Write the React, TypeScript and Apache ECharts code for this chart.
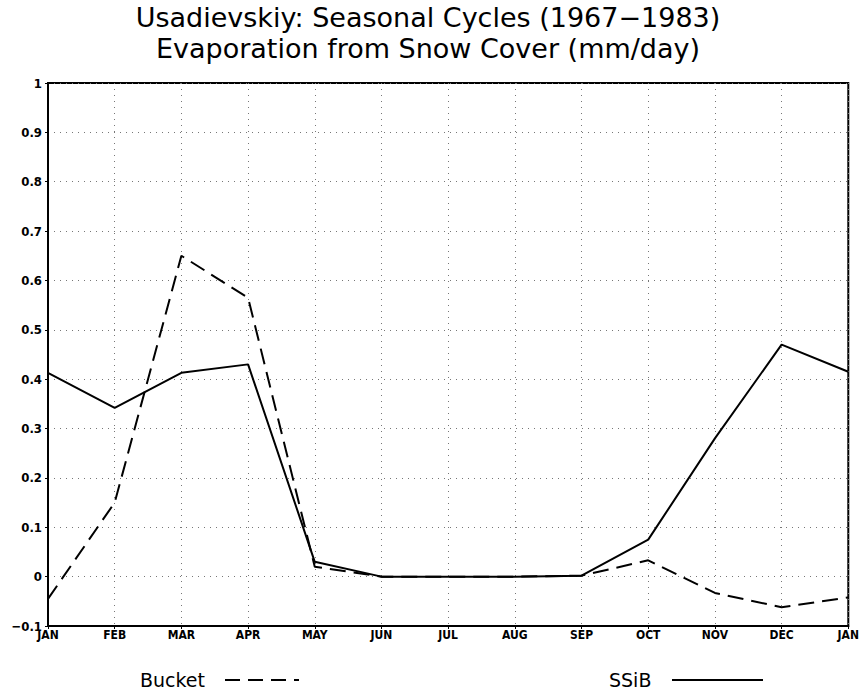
import React, { useEffect, useRef } from "react";
import * as echarts from "echarts";

const monthLabels = ["JAN", "FEB", "MAR", "APR", "MAY", "JUN", "JUL", "AUG", "SEP", "OCT", "NOV", "DEC", "JAN"];
const bucket = [-0.045, 0.15, 0.65, 0.565, 0.02, 0.0, 0.0, 0.0, 0.002, 0.033, -0.033, -0.062, -0.042];
const ssib = [0.413, 0.342, 0.413, 0.43, 0.03, 0.0, 0.0, 0.0, 0.002, 0.075, 0.28, 0.47, 0.415];
const titleLines = ["Usadievskiy: Seasonal Cycles (1967\u22121983)", "Evaporation from Snow Cover (mm/day)"];
const legendNames = ["Bucket", "SSiB"];

const labelFont = "'Liberation Sans Narrow', 'DejaVu Sans Condensed', Arial, sans-serif";
const titleFont = "'DejaVu Sans', sans-serif";

export default function App() {
  const ref = useRef<HTMLDivElement>(null);
  useEffect(() => {
    if (!ref.current) return;
    const chart = echarts.init(ref.current, null, { renderer: "svg" });
    const grid = { color: "#777", type: [1, 5] as number[], width: 1 };
    const legendText = { fontFamily: titleFont, fontSize: 19, fill: "#000" };
    chart.setOption({
      animation: false,
      backgroundColor: "#fff",
      title: {
        text: titleLines.join("\n"),
        left: 428,
        top: 2,
        padding: 0,
        textAlign: "center",
        textStyle: {
          fontFamily: titleFont,
          fontSize: 27,
          fontWeight: "normal",
          color: "#000",
          lineHeight: 31,
        },
      },
      graphic: [
        { type: "text", x: 140, y: 680, style: { ...legendText, text: legendNames[0], verticalAlign: "middle" } },
        {
          type: "line",
          shape: { x1: 225, y1: 680, x2: 299, y2: 680 },
          style: { stroke: "#000", lineWidth: 2, lineDash: [15, 8] },
        },
        { type: "text", x: 609, y: 680, style: { ...legendText, text: legendNames[1], verticalAlign: "middle" } },
        {
          type: "line",
          shape: { x1: 672, y1: 680, x2: 763, y2: 680 },
          style: { stroke: "#000", lineWidth: 2 },
        },
      ],
      grid: {
        left: 48,
        right: 11,
        top: 83,
        bottom: 64,
        show: true,
        borderColor: "#000",
        borderWidth: 2,
        backgroundColor: "transparent",
      },
      xAxis: {
        type: "value",
        min: 0,
        max: 12,
        interval: 1,
        axisLine: { show: true, onZero: false, lineStyle: { color: "#000", width: 2 } },
        axisTick: { show: true, length: 3, inside: false, lineStyle: { color: "#000", width: 1 } },
        axisLabel: {
          formatter: (v: number) => monthLabels[Math.round(v)] ?? "",
          fontFamily: labelFont,
          fontSize: 12,
          fontWeight: "bold",
          color: "#000",
          margin: 3,
          showMinLabel: true,
          showMaxLabel: true,
        },
        splitLine: { show: true, lineStyle: grid },
      },
      yAxis: {
        type: "value",
        min: -0.1,
        max: 1,
        interval: 0.1,
        axisLine: { show: true, onZero: false, lineStyle: { color: "#000", width: 2 } },
        axisTick: { show: true, length: 3, lineStyle: { color: "#000", width: 1 } },
        axisLabel: {
          formatter: (v: number) => {
            const r = Math.round(v * 10) / 10;
            return r === 0 ? "0" : String(r).replace("-", "\u2212");
          },
          fontFamily: labelFont,
          fontSize: 13,
          fontWeight: "bold",
          color: "#000",
          margin: 6,
        },
        splitLine: { show: true, lineStyle: grid },
      },
      series: [
        {
          name: legendNames[0],
          type: "line",
          data: bucket.map((v, i) => [i, v]),
          showSymbol: false,
          symbol: "none",
          lineStyle: { color: "#000", width: 2, type: [16, 8] },
          itemStyle: { color: "#000" },
        },
        {
          name: legendNames[1],
          type: "line",
          data: ssib.map((v, i) => [i, v]),
          showSymbol: false,
          symbol: "none",
          lineStyle: { color: "#000", width: 2, type: "solid" },
          itemStyle: { color: "#000" },
        },
      ],
    });
    return () => chart.dispose();
  }, []);
  return <div ref={ref} style={{ width: 862, height: 690, position: "absolute", left: 0, top: 0 }} />;
}
